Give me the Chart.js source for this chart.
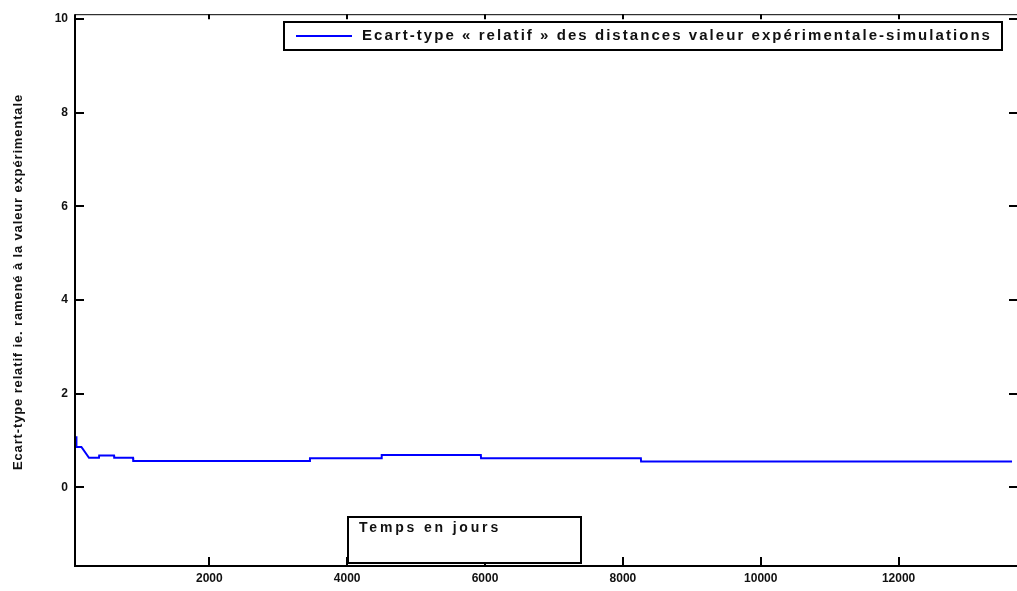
<!DOCTYPE html>
<html>
<head>
<meta charset="utf-8">
<script src="https://cdn.jsdelivr.net/npm/chart.js@4.4.0/dist/chart.umd.min.js"></script>
<style>
  body { margin: 0; background: #fff; }
  #wrap { width: 1017px; height: 591px; }
</style>
</head>
<body>
<div id="wrap"><canvas id="chart"></canvas></div>
<script>
// values (steps drawn as near-vertical jumps)
const days = [68, 72, 144, 254, 399, 402, 617, 620, 893, 896, 3457, 3460, 4498, 4501, 5939, 5942, 8261, 8264, 13646];
const ecart = [1.09, 0.86, 0.86, 0.63, 0.63, 0.68, 0.68, 0.63, 0.63, 0.56, 0.56, 0.62, 0.62, 0.69, 0.69, 0.62, 0.62, 0.55, 0.55];
const xTicks = [2000, 4000, 6000, 8000, 10000, 12000];
const yTicks = [0, 2, 4, 6, 8, 10];
const seriesLabel = 'Ecart-type « relatif » des distances valeur expérimentale-simulations';
const xTitle = 'Temps en jours';
const yTitle = 'Ecart-type relatif ie. ramené à la valeur expérimentale';

const points = days.map((d, i) => ({ x: d, y: ecart[i] }));

// text stretched to a given width with letter spacing
function spacedText(ctx, text, x, y, width) {
  ctx.letterSpacing = '0px';
  const w = ctx.measureText(text).width;
  const gap = (width - w) / text.length;
  ctx.letterSpacing = gap + 'px';
  ctx.fillText(text, x, y);
  ctx.letterSpacing = '0px';
}

// matlab-like frame, inward ticks, boxed legend and labels
const framePlugin = {
  id: 'frame',
  afterDraw(chart) {
    const ctx = chart.ctx;
    const a = chart.chartArea;
    const xs = chart.scales.x;
    const ys = chart.scales.y;
    ctx.save();
    ctx.strokeStyle = '#000';

    ctx.lineWidth = 2;
    ctx.beginPath();
    ctx.moveTo(a.left, a.top);
    ctx.lineTo(a.left, a.bottom);
    ctx.lineTo(a.right, a.bottom);
    ctx.stroke();

    ctx.lineWidth = 1;
    ctx.beginPath();
    ctx.moveTo(a.left, a.top + 0.5);
    ctx.lineTo(a.right, a.top + 0.5);
    ctx.stroke();

    ctx.lineWidth = 2;
    ctx.beginPath();
    yTicks.forEach(v => {
      const py = Math.round(ys.getPixelForValue(v));
      ctx.moveTo(a.left, py);
      ctx.lineTo(a.left + 9, py);
      ctx.moveTo(a.right - 8, py);
      ctx.lineTo(a.right, py);
    });
    xTicks.forEach(v => {
      const px = Math.round(xs.getPixelForValue(v));
      ctx.moveTo(px, a.bottom);
      ctx.lineTo(px, a.bottom - 9);
      ctx.moveTo(px, a.top);
      ctx.lineTo(px, a.top + 5);
    });
    ctx.stroke();

    // legend box
    ctx.fillStyle = '#fff';
    ctx.fillRect(284, 22, 718, 28);
    ctx.lineWidth = 2;
    ctx.strokeRect(284, 22, 718, 28);
    ctx.strokeStyle = chart.data.datasets[0].borderColor;
    ctx.beginPath();
    ctx.moveTo(296, 36);
    ctx.lineTo(352, 36);
    ctx.stroke();
    ctx.fillStyle = '#111';
    ctx.font = 'bold 15px "Liberation Sans", Arial, sans-serif';
    ctx.textBaseline = 'middle';
    ctx.textAlign = 'left';
    spacedText(ctx, chart.data.datasets[0].label, 362, 36, 630);

    // x title box
    ctx.strokeStyle = '#000';
    ctx.fillStyle = '#fff';
    ctx.fillRect(348, 517, 233, 46);
    ctx.strokeRect(348, 517, 233, 46);
    ctx.fillStyle = '#111';
    ctx.font = 'bold 14px "Liberation Sans", Arial, sans-serif';
    ctx.textBaseline = 'top';
    spacedText(ctx, xTitle, 359, 521, 142);

    // y title
    ctx.translate(18, 282);
    ctx.rotate(-Math.PI / 2);
    ctx.font = 'bold 13px "Liberation Sans", Arial, sans-serif';
    ctx.textBaseline = 'middle';
    spacedText(ctx, yTitle, -188, 0, 376);
    ctx.restore();
  }
};

new Chart(document.getElementById('chart'), {
  type: 'line',
  data: {
    datasets: [{
      label: seriesLabel,
      data: points,
      borderColor: '#0000ff',
      borderWidth: 2,
      pointRadius: 0,
      tension: 0,
      fill: false
    }]
  },
  options: {
    responsive: true,
    maintainAspectRatio: false,
    animation: false,
    layout: { padding: { left: 0, right: 0, top: 13, bottom: 0 } },
    plugins: {
      legend: { display: false },
      tooltip: { enabled: false }
    },
    scales: {
      x: {
        type: 'linear',
        min: 51,
        max: 13718,
        grid: { display: false, drawTicks: false },
        border: { display: false },
        afterBuildTicks: s => { s.ticks = xTicks.map(v => ({ value: v })); },
        afterFit: s => { s.height = 25; },
        ticks: {
          padding: 5,
          maxRotation: 0,
          autoSkip: false,
          color: '#111',
          font: { family: '"Liberation Sans", Arial, sans-serif', size: 12, weight: 'bold' },
          callback: v => String(v)
        }
      },
      y: {
        min: -1.68,
        max: 10.1,
        grid: { display: false, drawTicks: false },
        border: { display: false },
        afterBuildTicks: s => { s.ticks = yTicks.map(v => ({ value: v })); },
        afterFit: s => { s.width = 75; },
        ticks: {
          padding: 7,
          color: '#111',
          font: { family: '"Liberation Sans", Arial, sans-serif', size: 12, weight: 'bold' },
          callback: v => String(v)
        }
      }
    }
  },
  plugins: [framePlugin]
});
</script>
</body>
</html>
